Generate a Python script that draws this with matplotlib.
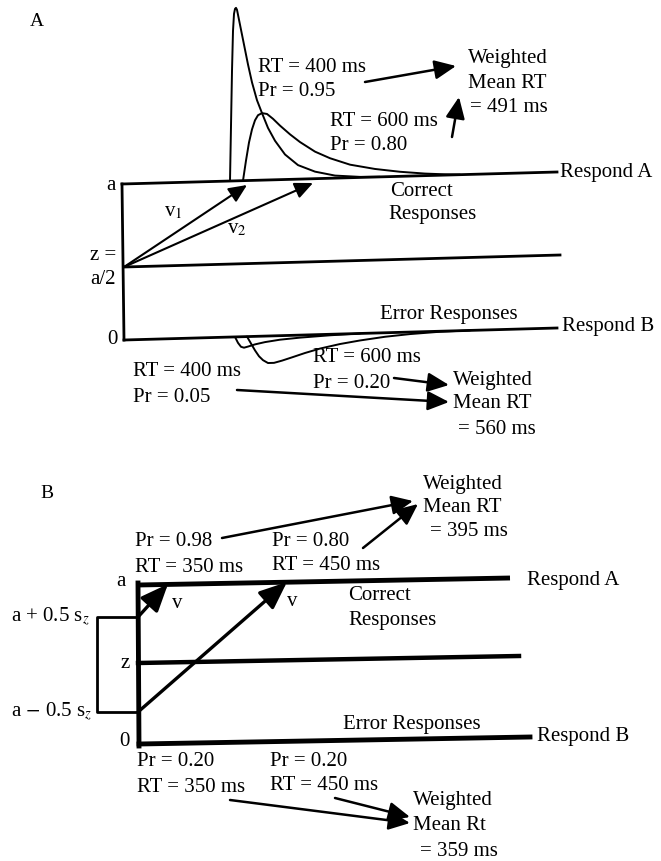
import matplotlib
matplotlib.use('Agg')
import matplotlib.pyplot as plt
import numpy as np

plt.rcParams['font.family'] = ['Liberation Serif', 'DejaVu Serif']
plt.rcParams['mathtext.fontset'] = 'stix'

# values shown in the diagram
rt_a = [400, 600]
pr_correct_a = [0.95, 0.80]
pr_error_a = [0.05, 0.20]
mean_rt_a = [491, 560]

rt_b = [350, 450]
pr_correct_b = [0.98, 0.80]
pr_error_b = [0.20, 0.20]
mean_rt_b = [395, 359]

# RT density sketches (time offset, height above boundary)
fast_t = [108, 109, 110, 111, 112, 113, 114, 115, 116, 118, 120, 123, 126, 130, 135, 140,
          146, 153, 163, 176, 193, 213, 238, 258]
fast_h = [0, 55, 110, 150, 167, 172, 173, 171, 166, 156, 146, 131, 116, 98, 80, 67,
          52, 39, 25, 14, 7, 2.5, 0.5, 0]
slow_t = [121, 124, 127, 130, 133, 136, 140, 145, 151, 158, 168, 178, 193, 208, 228, 253,
          278, 303, 323, 338]
slow_h = [0, 20, 38, 51, 60, 65, 67, 66, 61, 54, 45, 37, 27, 20, 13, 8, 4.5, 2, 0.7, 0]
err_fast_t = [110, 113, 116, 119, 123, 130, 140, 155, 175, 205, 235]
err_fast_h = [0, 6, 10, 11, 10, 8, 6, 4, 2.5, 1, 0]
err_slow_t = [122, 126, 130, 134, 138, 143, 149, 157, 167, 180, 195, 215, 235, 260, 285, 315, 345]
err_slow_h = [0, 7, 14, 20, 24, 27, 27, 25, 22, 18, 14, 10, 7, 4, 2, 0.5, 0]

fig = plt.figure(figsize=(6.61, 8.61), dpi=100)
ax = fig.add_axes([0, 0, 1, 1])
ax.set_xlim(0, 661)
ax.set_ylim(861, 0)
ax.axis('off')

FS = 15
SLOPE = -0.0278


def txt(x, y, s, ha='left', size=FS):
    ax.text(x, y, s, ha=ha, va='center', fontsize=size, color='k')


def arrow(x0, y0, x1, y1, lw=1.6, scale=12, hl=1.0, hw=0.45):
    ax.annotate('', xy=(x1, y1), xytext=(x0, y0),
                arrowprops=dict(arrowstyle='-|>,head_length=%s,head_width=%s' % (hl, hw),
                                lw=lw, color='k', shrinkA=0, shrinkB=0,
                                mutation_scale=scale))


def sketch(t, h, x0, y0, sign=1, lw=1.4):
    t = np.asarray(t, float)
    h = np.asarray(h, float)
    x = x0 + t
    base = y0 + SLOPE * t
    ax.plot(x, base - sign * h, color='k', lw=lw, solid_capstyle='round')


# ---------------- panel A ----------------
txt(30, 22, 'A', size=14)
ax.plot([122, 557], [184, 172], color='k', lw=2)
ax.plot([122, 124], [184, 340], color='k', lw=2)
ax.plot([124, 560], [267, 255], color='k', lw=2)
ax.plot([124, 557], [340, 328], color='k', lw=2)

sketch(fast_t, fast_h, 122, 184)
sketch(slow_t, slow_h, 122, 184)
sketch(err_fast_t, err_fast_h, 125, 340, sign=-1)
sketch(err_slow_t, err_slow_h, 125, 340, sign=-1)

arrow(124, 267, 247, 185, lw=1.5, scale=11)
arrow(124, 267, 313, 183, lw=1.5, scale=11)
txt(173, 212, r'v$_1$', ha='center')
txt(237, 229, r'v$_2$', ha='center')

txt(116, 185, 'a', ha='right')
txt(116, 256, 'z =', ha='right')
txt(116, 279, 'a/2', ha='right')
txt(118, 340, '0', ha='right')

txt(258, 68, 'RT = %d ms' % rt_a[0])
txt(258, 91, 'Pr = %.2f' % pr_correct_a[0])
txt(330, 121, 'RT = %d ms' % rt_a[1])
txt(330, 145, 'Pr = %.2f' % pr_correct_a[1])
arrow(365, 82, 456, 66, lw=1.8, scale=13)
arrow(452, 137, 459, 97, lw=1.8, scale=13)
txt(468, 58, 'Weighted')
txt(468, 83, 'Mean RT')
txt(470, 108, '= %d ms' % mean_rt_a[0])

txt(390, 192, 'Correct')
txt(388, 215, 'Responses')
txt(380, 314, 'Error Responses')
txt(560, 172, 'Respond A')
txt(562, 327, 'Respond B')

txt(133, 372, 'RT = %d ms' % rt_a[0])
txt(133, 397, 'Pr = %.2f' % pr_error_a[0])
txt(313, 358, 'RT = %d ms' % rt_a[1])
txt(313, 383, 'Pr = %.2f' % pr_error_a[1])
arrow(394, 378, 449, 385, lw=1.8, scale=13)
arrow(237, 390, 449, 402, lw=1.8, scale=13)
txt(453, 380, 'Weighted')
txt(453, 404, 'Mean RT')
txt(458, 429, '= %d ms' % mean_rt_a[1])

# ---------------- panel B ----------------
txt(40, 493, 'B', size=14)
ax.plot([138, 510], [585, 578], color='k', lw=3.5, solid_capstyle='butt')
ax.plot([138, 139], [583, 746], color='k', lw=3.5)
ax.plot([138, 519], [663, 656], color='k', lw=3.2)
ax.plot([139, 530], [744, 737], color='k', lw=3.5)
ax.plot([138, 97, 97, 138], [617, 617, 712, 712], color='k', lw=2)

arrow(138, 617, 168, 584, lw=2.4, scale=14, hl=1.2, hw=0.5)
arrow(138, 712, 287, 582, lw=2.4, scale=14, hl=1.2, hw=0.5)
txt(177, 603, 'v', ha='center')
txt(292, 601, 'v', ha='center')

txt(126, 581, 'a', ha='right')
txt(130, 664, 'z', ha='right')
txt(130, 742, '0', ha='right')
txt(90, 617, r'a + 0.5 s$_z$', ha='right')
txt(92, 712, r'a $-$ 0.5 s$_z$', ha='right')

txt(135, 542, 'Pr = %.2f' % pr_correct_b[0])
txt(135, 567, 'RT = %d ms' % rt_b[0])
txt(272, 541, 'Pr = %.2f' % pr_correct_b[1])
txt(272, 566, 'RT = %d ms' % rt_b[1])
arrow(222, 538, 413, 501, lw=1.8, scale=13)
arrow(363, 548, 418, 504, lw=1.8, scale=13)
txt(423, 485, 'Weighted')
txt(423, 508, 'Mean RT')
txt(430, 532, '= %d ms' % mean_rt_b[0])

txt(348, 596, 'Correct')
txt(348, 620, 'Responses')
txt(343, 725, 'Error Responses')
txt(527, 581, 'Respond A')
txt(537, 736, 'Respond B')

txt(137, 762, 'Pr = %.2f' % pr_error_b[0])
txt(137, 788, 'RT = %d ms' % rt_b[0])
txt(270, 761, 'Pr = %.2f' % pr_error_b[1])
txt(270, 786, 'RT = %d ms' % rt_b[1])
arrow(230, 800, 410, 823, lw=1.8, scale=13)
arrow(335, 798, 410, 817, lw=1.8, scale=13)
txt(413, 800, 'Weighted')
txt(413, 825, 'Mean Rt')
txt(420, 851, '= %d ms' % mean_rt_b[1])

fig.savefig('out.png', dpi=100, facecolor='white')
